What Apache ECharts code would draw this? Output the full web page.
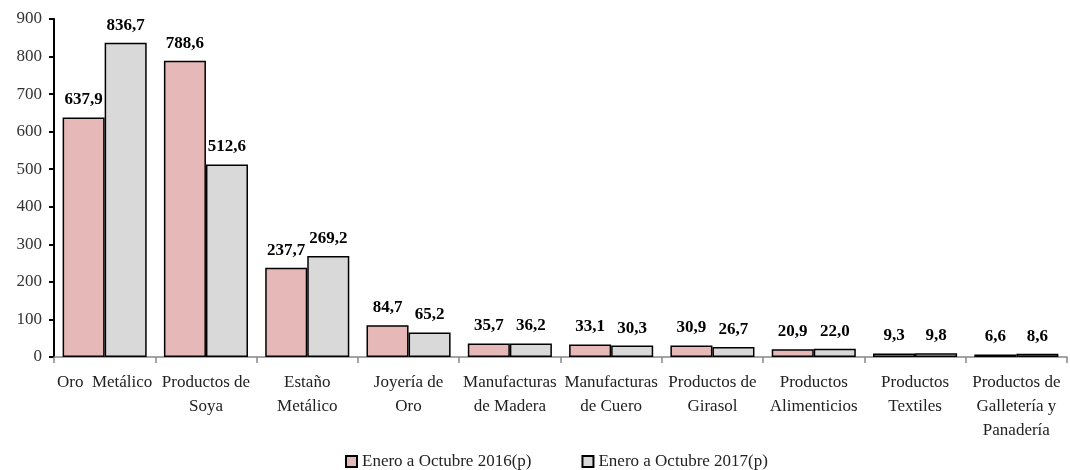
<!DOCTYPE html>
<html><head><meta charset="utf-8">
<script src="https://cdn.jsdelivr.net/npm/echarts@6/dist/echarts.min.js"></script>
<style>html,body{margin:0;padding:0;background:#fff}#c{width:1070px;height:470px}</style>
</head><body><div id="c"></div>
<script>
const categories = ["Oro  Metálico","Productos de\nSoya","Estaño\nMetálico","Joyería de\nOro","Manufacturas\nde Madera","Manufacturas\nde Cuero","Productos de\nGirasol","Productos\nAlimenticios","Productos\nTextiles","Productos de\nGalletería y\nPanadería"];
const series2016 = [637.9,788.6,237.7,84.7,35.7,33.1,30.9,20.9,9.3,6.6];
const series2017 = [836.7,512.6,269.2,65.2,36.2,30.3,26.7,22.0,9.8,8.6];
const seriesNames = ["Enero a Octubre 2016(p)","Enero a Octubre 2017(p)"];
const font = "'Liberation Serif', 'DejaVu Serif', serif";
const chart = echarts.init(document.getElementById('c'));
const lbl = {show:true,position:'top',distance:9,fontFamily:font,fontWeight:'bold',fontSize:17,color:'#000',
  formatter:p=>p.value.toFixed(1).replace('.',',')};
chart.setOption({
  animation:false,
  textStyle:{fontFamily:font},
  grid:{left:54,right:3,top:19,bottom:113},
  legend:{top:453,left:345,padding:0,itemGap:50,itemWidth:11,itemHeight:11,icon:'rect',
    textStyle:{fontFamily:font,fontSize:17,color:'#222'},
    data:seriesNames},
  xAxis:{type:'category',data:categories,
    axisLine:{lineStyle:{color:'#888',width:1.5}},
    axisTick:{show:true,length:6,lineStyle:{color:'#888',width:1.5}},
    axisLabel:{interval:0,fontFamily:font,fontSize:17,color:'#222',margin:14,lineHeight:24}},
  yAxis:{type:'value',min:0,max:900,interval:100,
    axisLine:{show:true,lineStyle:{color:'#000',width:2}},
    axisTick:{show:true,inside:false,length:5,lineStyle:{color:'#000',width:2}},
    splitLine:{show:false},
    axisLabel:{fontFamily:font,fontSize:17,color:'#333',margin:12}},
  series:[
    {name:seriesNames[0],type:'bar',data:series2016,barGap:'0%',barCategoryGap:'17%',
     itemStyle:{color:'#E6B8B7',borderColor:'#000',borderWidth:1.5},label:lbl},
    {name:seriesNames[1],type:'bar',data:series2017,
     itemStyle:{color:'#D9D9D9',borderColor:'#000',borderWidth:1.5},label:lbl}
  ]
});
</script></body></html>
